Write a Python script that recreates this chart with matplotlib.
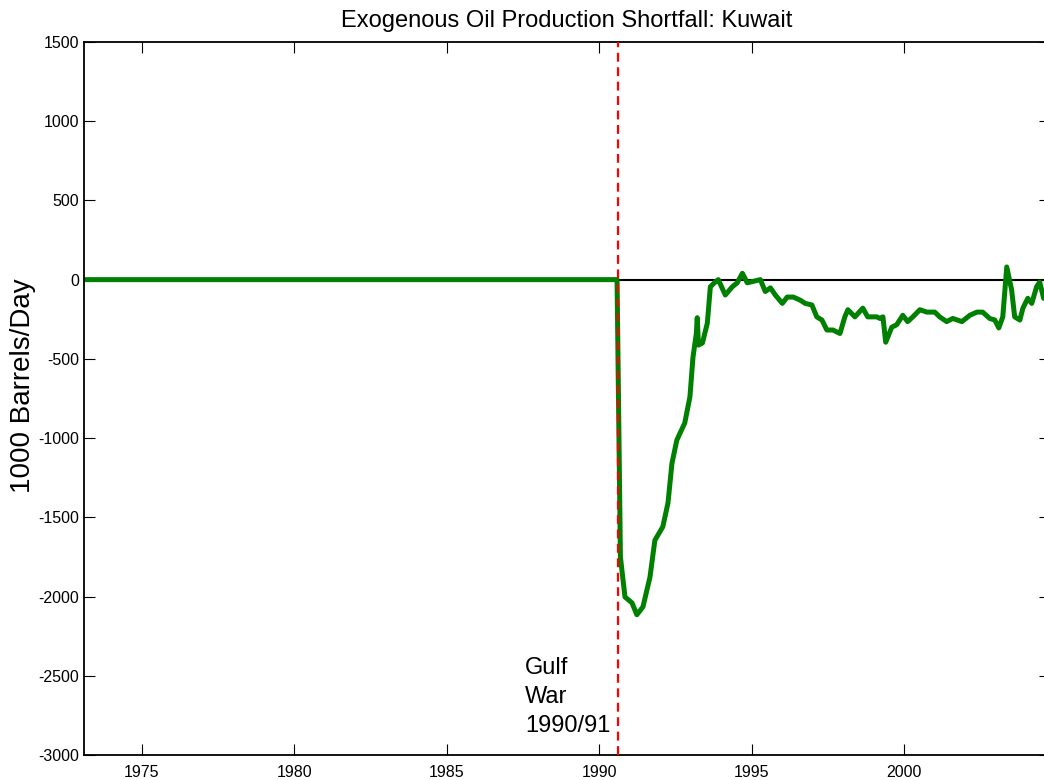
import matplotlib.pyplot as plt

plt.rcParams['font.family'] = ['Liberation Sans', 'DejaVu Sans']
plt.rcParams['axes.unicode_minus'] = False

# Kuwait exogenous oil production shortfall (1000 barrels/day)
years = [1973.0, 1990.58, 1990.69, 1990.84, 1991.07, 1991.23, 1991.43, 1991.66,
         1991.82, 1992.08, 1992.25, 1992.38, 1992.54, 1992.80, 1992.97, 1993.07,
         1993.18, 1993.21, 1993.25, 1993.38, 1993.54, 1993.64, 1993.80, 1993.90,
         1994.13, 1994.36, 1994.52, 1994.69, 1994.85, 1995.28, 1995.44, 1995.61,
         1995.77, 1996.00, 1996.16, 1996.36, 1996.59, 1996.75, 1996.97, 1997.13,
         1997.30, 1997.46, 1997.66, 1997.89, 1998.05, 1998.15, 1998.38, 1998.64,
         1998.80, 1999.10, 1999.20, 1999.30, 1999.39, 1999.59, 1999.75, 1999.95,
         2000.11, 2000.28, 2000.51, 2000.74, 2001.00, 2001.16, 2001.39, 2001.59,
         2001.89, 2002.15, 2002.38, 2002.57, 2002.80, 2002.97, 2003.10, 2003.23,
         2003.36, 2003.52, 2003.62, 2003.79, 2003.89, 2004.05, 2004.18, 2004.34,
         2004.44, 2004.57, 2004.75]
shortfall = [0, 0, -1750, -2003, -2040, -2115, -2065, -1877,
             -1645, -1560, -1410, -1160, -1013, -905, -740, -490,
             -340, -240, -413, -400, -275, -45, -15, 0,
             -97, -45, -20, 40, -20, 0, -75, -52,
             -97, -150, -110, -110, -130, -150, -160, -235,
             -255, -318, -318, -340, -235, -190, -235, -180,
             -235, -235, -245, -235, -395, -300, -285, -225,
             -265, -235, -190, -205, -205, -235, -265, -245,
             -265, -225, -205, -205, -245, -255, -305, -235,
             80, -65, -235, -255, -180, -118, -150, -45,
             -15, -118, -60]

event_year = 1990.6
event_label = 'Gulf\nWar\n1990/91'
xticks = [1975, 1980, 1985, 1990, 1995, 2000]
yticks = list(range(-3000, 1501, 500))

fig = plt.figure(figsize=(10.44, 7.8), dpi=100)
ax = fig.add_axes([0.0805, 0.0321, 0.925, 0.9141])

ax.axhline(0, color='black', lw=1.5, zorder=1)
ax.plot(years, shortfall, color=(0, 0.5, 0), lw=3.6, zorder=2)
ax.axvline(event_year, color='red', lw=1.6, ls=(0, (4, 2.5)), zorder=3)
ax.text(1987.56, -2855, event_label, fontsize=17, va='baseline', ha='left',
        linespacing=1.4)

ax.set_xlim(1973.1, 2004.77)
ax.set_ylim(-3000, 1500)
ax.set_xticks(xticks)
ax.set_yticks(yticks)
ax.tick_params(direction='in', length=8, top=True, right=True, labelsize=11.5,
               width=0.8)
ax.tick_params(axis='x', pad=7)
for s in ax.spines.values():
    s.set_linewidth(1.3)

ax.set_ylabel('1000 Barrels/Day', fontsize=20)
ax.yaxis.set_label_coords(-0.050, 0.518)
ax.set_title('Exogenous Oil Production Shortfall: Kuwait', fontsize=17, pad=11)

fig.savefig('out.png', dpi=100)
